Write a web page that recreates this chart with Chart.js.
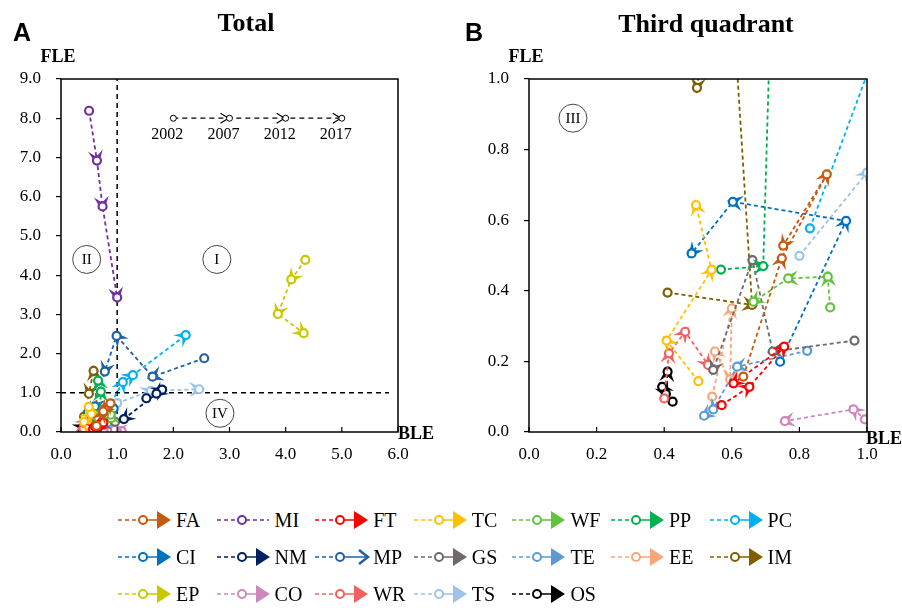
<!DOCTYPE html>
<html>
<head>
<meta charset="utf-8">
<script src="https://cdn.jsdelivr.net/npm/chart.js@4.4.1/dist/chart.umd.min.js"></script>
<style>
  body { margin: 0; background: #fff; }
  #page { position: relative; width: 902px; height: 608px; overflow: hidden; background: #fff; }
  .box { position: absolute; top: 0; width: 451px; height: 470px; }
  .t { position: absolute; transform: translate(-50%, -50%); white-space: nowrap; line-height: 1; color: #000; }
  .serif { font-family: "Liberation Serif", "Times New Roman", serif; }
  .sans { font-family: "Liberation Sans", Arial, sans-serif; font-weight: bold; }
  #legend { position: absolute; left: 118px; top: 510px; display: grid; grid-template-columns: repeat(7, 98.6px); row-gap: 17px; }
  .item { display: flex; align-items: center; height: 20px; }
  .item span { font-family: "Liberation Serif", serif; font-size: 20px; line-height: 1; }
</style>
</head>
<body>
<div id="page">
  <div class="box" style="left:0"><canvas id="chartA" width="451" height="470"></canvas></div>
  <div class="box" style="left:451px"><canvas id="chartB" width="451" height="470"></canvas></div>

  <div class="t sans" style="left:22px;top:32px;font-size:25px">A</div>
  <div class="t sans" style="left:474px;top:32px;font-size:25px">B</div>
  <div class="t serif" style="left:246px;top:23px;font-size:26px;font-weight:bold">Total</div>
  <div class="t serif" style="left:706px;top:24px;font-size:26px;font-weight:bold">Third quadrant</div>
  <div class="t serif" style="left:58px;top:56px;font-size:18px;font-weight:bold">FLE</div>
  <div class="t serif" style="left:526px;top:56px;font-size:18px;font-weight:bold">FLE</div>
  <div class="t serif" style="left:416px;top:433px;font-size:18px;font-weight:bold">BLE</div>
  <div class="t serif" style="left:884px;top:438px;font-size:18px;font-weight:bold">BLE</div>

  <div id="legend"></div>
</div>

<script>
  // sectors and their colours (legend order)
  const sectors = ["FA", "MI", "FT", "TC", "WF", "PP", "PC", "CI", "NM", "MP", "GS", "TE", "EE", "IM", "EP", "CO", "WR", "TS", "OS"];
  const colors = ["#C55A11", "#7030A0", "#FF0000", "#FFC000", "#63C23D", "#00B050", "#00B0F0", "#0070C0", "#002060", "#2060A8",
                  "#6F6A6A", "#5B9BD5", "#F7A77A", "#7F5F00", "#C8C800", "#CC88BB", "#F46060", "#9DC3E6", "#000000"];

  // BLE / FLE for 2002, 2007, 2012, 2017
  const bleFA = [0.634, 0.748, 0.881, 0.752], fleFA = [0.157, 0.492, 0.730, 0.528];
  const bleMI = [0.50, 0.64, 0.74, 1.00],     fleMI = [8.19, 6.92, 5.75, 3.43];
  const bleFT = [0.570, 0.652, 0.755, 0.605], fleFT = [0.076, 0.128, 0.242, 0.138];
  const bleTC = [0.501, 0.407, 0.540, 0.494], fleTC = [0.144, 0.259, 0.459, 0.643];
  const bleWF = [0.891, 0.884, 0.767, 0.664], fleWF = [0.353, 0.440, 0.435, 0.369];
  const blePP = [0.568, 0.693, 0.710, 0.660], flePP = [0.460, 0.470, 1.03, 1.31];
  const blePC = [0.831, 1.10, 1.28, 2.22],    flePC = [0.577, 1.27, 1.45, 2.47];
  const bleCI = [0.743, 0.938, 0.603, 0.481], fleCI = [0.199, 0.598, 0.652, 0.506];
  const bleNM = [1.52, 1.80, 1.70, 1.12],     fleNM = [0.86, 1.08, 0.98, 0.33];
  const bleMP = [2.55, 1.63, 0.99, 0.78],     fleMP = [1.88, 1.41, 2.45, 1.54];
  const bleGS = [0.963, 0.721, 0.661, 0.545], fleGS = [0.259, 0.228, 0.487, 0.176];
  const bleTE = [0.823, 0.616, 0.545, 0.518], fleTE = [0.230, 0.185, 0.064, 0.046];
  const bleEE = [0.542, 0.600, 0.595, 0.550], fleEE = [0.100, 0.350, 0.149, 0.228];
  const bleIM = [0.410, 0.660, 0.580, 0.497], fleIM = [0.395, 0.360, 1.56, 0.975];
  const bleEP = [4.35, 4.10, 3.86, 4.32],     fleEP = [4.39, 3.89, 3.01, 2.52];
  const bleCO = [1.08, 0.994, 0.960, 0.757],  fleCO = [0.020, 0.036, 0.064, 0.031];
  const bleWR = [0.400, 0.414, 0.462, 0.530], fleWR = [0.095, 0.223, 0.284, 0.190];
  const bleTS = [0.800, 1.00, 1.60, 2.46],    fleTS = [0.499, 0.735, 1.05, 1.09];
  const bleOS = [0.425, 0.394, 0.405, 0.410], fleOS = [0.086, 0.128, 0.108, 0.171];

  const series = [
    [bleFA, fleFA], [bleMI, fleMI], [bleFT, fleFT], [bleTC, fleTC], [bleWF, fleWF], [blePP, flePP], [blePC, flePC],
    [bleCI, fleCI], [bleNM, fleNM], [bleMP, fleMP], [bleGS, fleGS], [bleTE, fleTE], [bleEE, fleEE], [bleIM, fleIM],
    [bleEP, fleEP], [bleCO, fleCO], [bleWR, fleWR], [bleTS, fleTS], [bleOS, fleOS],
  ];

  // year key drawn inside panel A
  const keyYears = ["2002", "2007", "2012", "2017"];
  const keyBle = [2, 3, 4, 5];
  const keyFle = [8, 8, 8, 8];

  // quadrant markers
  const quadA = ["I", "II", "IV"], quadABle = [2.775, 0.457, 2.83], quadAFle = [4.40, 4.40, 0.477];
  const quadB = ["III"], quadBBle = [0.13], quadBFle = [0.889];

  // dashed dividing lines in panel A
  const divX = [1, 1], divXFle = [0, 9];
  const divYBle = [0, 5.84], divY = [1, 1];

  const SERIF = '"Liberation Serif", "Times New Roman", serif';

  function toPoints(xs, ys) {
    return xs.map((x, i) => ({ x, y: ys[i] }));
  }

  function sectorSets() {
    return series.map(([xs, ys], k) => ({
      label: sectors[k],
      data: toPoints(xs, ys),
      showLine: true,
      borderColor: colors[k],
      borderWidth: 1.8,
      borderDash: [4, 3],
      pointRadius: 4,
      pointBorderWidth: 2.2,
      pointBackgroundColor: "#fff",
      pointBorderColor: colors[k],
      arrow: "stealth",
    }));
  }

  function drawArrow(ctx, x, y, ang, color, style) {
    ctx.save();
    ctx.translate(x, y);
    ctx.rotate(ang);
    if (style === "open") {
      ctx.strokeStyle = color;
      ctx.lineWidth = 1.2;
      ctx.beginPath();
      ctx.moveTo(-9, -5);
      ctx.lineTo(-1, 0);
      ctx.lineTo(-9, 5);
      ctx.stroke();
    } else {
      ctx.fillStyle = color;
      ctx.beginPath();
      ctx.moveTo(6, 0);
      ctx.lineTo(-10, -7.5);
      ctx.lineTo(-4, 0);
      ctx.lineTo(-10, 7.5);
      ctx.closePath();
      ctx.fill();
    }
    ctx.restore();
  }

  const arrowPlugin = {
    id: "arrows",
    beforeDatasetDraw(chart, args) {
      const ds = chart.data.datasets[args.index];
      if (!ds.arrow) return;
      const area = chart.chartArea;
      const pts = args.meta.data;
      const ctx = chart.ctx;
      ctx.save();
      ctx.beginPath();
      ctx.rect(area.left, area.top, area.right - area.left, area.bottom - area.top);
      ctx.clip();
      for (let i = 1; i < pts.length; i++) {
        const a = pts[i - 1], b = pts[i];
        drawArrow(ctx, b.x, b.y, Math.atan2(b.y - a.y, b.x - a.x), ds.borderColor, ds.arrow);
      }
      ctx.restore();
    },
  };

  const framePlugin = {
    id: "frame",
    afterDatasetsDraw(chart) {
      const { ctx, chartArea: a, scales } = chart;
      ctx.save();
      ctx.strokeStyle = "#000";
      ctx.lineWidth = 1.5;
      ctx.strokeRect(a.left, a.top, a.right - a.left, a.bottom - a.top);
      ctx.lineWidth = 1.2;
      scales.x.ticks.forEach((t, i) => {
        const x = scales.x.getPixelForTick(i);
        ctx.beginPath();
        ctx.moveTo(x, a.bottom);
        ctx.lineTo(x, a.bottom - 5);
        ctx.stroke();
      });
      ctx.restore();
    },
  };

  const notesPlugin = {
    id: "notes",
    afterDatasetsDraw(chart, args, opts) {
      const { ctx, scales } = chart;
      ctx.save();
      ctx.fillStyle = "#000";
      ctx.textAlign = "center";
      ctx.textBaseline = "middle";
      (opts.quads || []).forEach(([text, bx, fy]) => {
        const x = scales.x.getPixelForValue(bx), y = scales.y.getPixelForValue(fy);
        ctx.strokeStyle = "#444";
        ctx.lineWidth = 1;
        ctx.beginPath();
        ctx.arc(x, y, 14, 0, Math.PI * 2);
        ctx.stroke();
        ctx.font = "15px " + SERIF;
        ctx.fillText(text, x, y + 1);
      });
      (opts.keys || []).forEach(([text, bx, fy]) => {
        const x = scales.x.getPixelForValue(bx), y = scales.y.getPixelForValue(fy);
        ctx.font = "16px " + SERIF;
        ctx.fillText(text, x - 6, y + 17);
      });
      ctx.restore();
    },
  };

  function makeChart(id, cfg) {
    const datasets = sectorSets().concat(cfg.extra || []);
    return new Chart(document.getElementById(id), {
      type: "scatter",
      data: { datasets },
      plugins: [arrowPlugin, framePlugin, notesPlugin],
      options: {
        responsive: false,
        animation: false,
        events: [],
        layout: { padding: { top: 79, right: cfg.padRight, bottom: 0, left: 0 } },
        plugins: {
          legend: { display: false },
          tooltip: { enabled: false },
          notes: { quads: cfg.quads, keys: cfg.keys },
        },
        scales: {
          x: {
            type: "linear",
            min: cfg.xMin, max: cfg.xMax,
            grid: { drawOnChartArea: false, drawTicks: false },
            border: { display: false },
            ticks: {
              stepSize: cfg.xStep, autoSkip: false, maxRotation: 0, padding: 12, color: "#000",
              font: { family: SERIF, size: 17 },
              callback: (v) => Number(v).toFixed(1),
            },
            afterFit: (s) => { s.height = 38; },
          },
          y: {
            type: "linear",
            min: cfg.yMin, max: cfg.yMax,
            grid: { drawOnChartArea: false, drawTicks: true, tickLength: 5, color: "#000", lineWidth: 1.2 },
            border: { display: false },
            ticks: {
              stepSize: cfg.yStep, autoSkip: false, padding: 15, color: "#000",
              font: { family: SERIF, size: 17 },
              callback: (v) => Number(v).toFixed(1),
            },
            afterFit: (s) => { s.width = cfg.yWidth; },
          },
        },
      },
    });
  }

  const refLine = (data) => ({
    data, showLine: true, borderColor: "#000", borderWidth: 1.5, borderDash: [5, 4], pointRadius: 0,
  });

  makeChart("chartA", {
    xMin: 0, xMax: 6, xStep: 1, yMin: 0, yMax: 9, yStep: 1, yWidth: 61, padRight: 53,
    quads: quadA.map((q, i) => [q, quadABle[i], quadAFle[i]]),
    keys: keyYears.map((k, i) => [k, keyBle[i], keyFle[i]]),
    extra: [
      refLine(toPoints(divX, divXFle)),
      refLine(toPoints(divYBle, divY)),
      {
        data: toPoints(keyBle, keyFle), showLine: true, borderColor: "#000", borderWidth: 1.3, borderDash: [5, 4],
        pointRadius: 3, pointBorderWidth: 1, pointBackgroundColor: "#fff", pointBorderColor: "#000", arrow: "open",
      },
    ],
  });

  makeChart("chartB", {
    xMin: 0, xMax: 1, xStep: 0.2, yMin: 0, yMax: 1, yStep: 0.2, yWidth: 78, padRight: 35,
    quads: quadB.map((q, i) => [q, quadBBle[i], quadBFle[i]]),
    keys: [],
  });

  // legend
  const legend = document.getElementById("legend");
  sectors.forEach((name, k) => {
    const c = colors[k];
    let head = `<polygon points="39,1 53,10 39,19" fill="${c}"/>`;
    let tail = `<line x1="29" y1="10" x2="39" y2="10" stroke="${c}" stroke-width="1.5"/>`;
    if (name === "MI") {
      head = "";
      tail = `<line x1="29" y1="10" x2="52" y2="10" stroke="${c}" stroke-width="1.5" stroke-dasharray="4 3"/>`;
    } else if (name === "MP") {
      head = `<polyline points="44,3 53,10 44,17" fill="none" stroke="${c}" stroke-width="2.5"/>`;
      tail = `<line x1="29" y1="10" x2="52" y2="10" stroke="${c}" stroke-width="1.5"/>`;
    }
    const svg = `<svg width="58" height="20" viewBox="0 0 58 20">
      <line x1="0" y1="10" x2="21" y2="10" stroke="${c}" stroke-width="1.5" stroke-dasharray="4 3"/>
      ${tail}${head}
      <circle cx="25" cy="10" r="4" fill="#fff" stroke="${c}" stroke-width="2"/>
    </svg>`;
    const div = document.createElement("div");
    div.className = "item";
    div.innerHTML = svg + `<span>${name}</span>`;
    legend.appendChild(div);
  });
</script>
</body>
</html>
